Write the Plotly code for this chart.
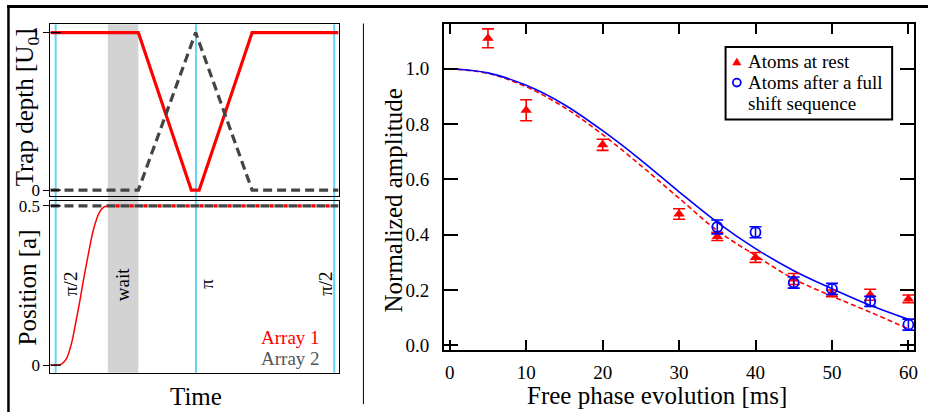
import plotly.graph_objects as go

W, H = 932, 418

# ---------------- Left panel data (time in arbitrary units, 0..100) ----------------
depth1_t = [0, 30.5, 48.9, 51.6, 70.0, 100]
depth1_v = [1, 1, 0, 0, 1, 1]
depth2_t = [0, 30.5, 50.4, 70.0, 100]
depth2_v = [0, 0, 1, 0, 0]

pos1_t = [0, 2.6, 4.0, 5.5, 7.3, 8.7, 10.1, 11.3, 12.4, 13.6, 14.7, 16.0, 17.0, 18.5, 19.9]
pos1_v = [0, 0, 0.004, 0.019, 0.068, 0.13, 0.197, 0.26, 0.313, 0.37, 0.418, 0.458, 0.48, 0.496, 0.5]
pos1_hold_t = [19.9, 100]
pos1_hold_v = [0.5, 0.5]
pos2_t = [0, 100]
pos2_v = [0.5, 0.5]

pulse_t = [1.8, 50.5, 98.5]
pulse_label_t = [6.7, 54.2, 95.5]
pulse_labels = ["π/2", "π", "π/2"]
wait_t = [19.9, 30.5]
wait_label_t = 24.8
depth_ticks = [0, 1]
pos_ticks = [0, 0.5]
pos_ticktext = ["0", "0.5"]

# ---------------- Right panel data ----------------
rest_x = [5, 10, 20, 30, 35, 40, 45, 50, 55, 60]
rest_y = [1.11, 0.85, 0.725, 0.475, 0.394, 0.318, 0.24, 0.188, 0.183, 0.168]
rest_err = [0.034, 0.038, 0.02, 0.019, 0.015, 0.018, 0.02, 0.012, 0.02, 0.014]

shift_x = [35, 40, 45, 50, 55, 60]
shift_y = [0.428, 0.409, 0.227, 0.204, 0.159, 0.075]
shift_err = [0.025, 0.02, 0.02, 0.02, 0.018, 0.02]

fit_x = [0, 5, 10, 15, 20, 25, 30, 35, 40, 45, 50, 55, 60]
fit_rest = [1.0, 0.983, 0.935, 0.86, 0.762, 0.65, 0.532, 0.415, 0.325, 0.24, 0.178, 0.12, 0.06]
fit_shift = [1.0, 0.985, 0.94, 0.87, 0.776, 0.67, 0.555, 0.445, 0.35, 0.27, 0.205, 0.145, 0.094]

x_ticks = [0, 10, 20, 30, 40, 50, 60]
y_ticks = [0.0, 0.2, 0.4, 0.6, 0.8, 1.0]

RED = "#ff0000"
BLUE = "#0000ff"
DGRAY = "#444444"
CYAN = "#66d4f2"
FONT = "Liberation Serif"


def px(x):
    return x / W


def py(y):
    return 1 - y / H


fig = go.Figure()

# Left top: trap depth
fig.add_trace(go.Scatter(x=depth1_t, y=depth1_v, mode="lines", line=dict(color=RED, width=3.2),
                         xaxis="x", yaxis="y", showlegend=False))
fig.add_trace(go.Scatter(x=depth2_t, y=depth2_v, mode="lines",
                         line=dict(color=DGRAY, width=3.2, dash="9px,5px"),
                         xaxis="x", yaxis="y", showlegend=False))

# Left bottom: position
fig.add_trace(go.Scatter(x=pos2_t, y=pos2_v, mode="lines",
                         line=dict(color=DGRAY, width=3.2, dash="9px,5px"),
                         xaxis="x2", yaxis="y2", showlegend=False))
fig.add_trace(go.Scatter(x=pos1_hold_t, y=pos1_hold_v, mode="lines",
                         line=dict(color=RED, width=3.2, dash="0px,7.9px,4px,2.1px"),
                         xaxis="x2", yaxis="y2", showlegend=False))
fig.add_trace(go.Scatter(x=pos1_t, y=pos1_v, mode="lines", line=dict(color=RED, width=1.5, shape="spline"),
                         xaxis="x2", yaxis="y2", showlegend=False))

# Right: fits
fig.add_trace(go.Scatter(x=fit_x, y=fit_rest, mode="lines",
                         line=dict(color=RED, width=1.6, dash="5px,3px", shape="spline"),
                         xaxis="x3", yaxis="y3", showlegend=False))
fig.add_trace(go.Scatter(x=fit_x, y=fit_shift, mode="lines",
                         line=dict(color=BLUE, width=1.6, shape="spline"),
                         xaxis="x3", yaxis="y3", showlegend=False))
# Right: data
fig.add_trace(go.Scatter(x=rest_x, y=rest_y, mode="markers", name="Atoms at rest",
                         marker=dict(symbol="triangle-up", size=10, color=RED),
                         error_y=dict(type="data", array=rest_err, color=RED, thickness=1.6, width=6),
                         xaxis="x3", yaxis="y3", showlegend=False))
fig.add_trace(go.Scatter(x=shift_x, y=shift_y, mode="markers", name="Atoms after a full shift sequence",
                         marker=dict(symbol="circle-open", size=10, color=BLUE, line=dict(width=1.8, color=BLUE)),
                         error_y=dict(type="data", array=shift_err, color=BLUE, thickness=1.6, width=6),
                         xaxis="x3", yaxis="y3", showlegend=False))

left_dom = [px(50.7), px(340)]
top_dom = [py(196.7), py(20.7)]
bot_dom = [py(377.7), py(202)]

common_left_x = dict(range=[0, 100], showticklabels=False, ticks="", showgrid=False, zeroline=False,
                     showline=True, linecolor="black", linewidth=1.2, mirror=True, domain=left_dom)
left_y_common = dict(showgrid=False, zeroline=False, showline=True, linecolor="black", linewidth=1.2,
                     mirror=True, ticks="outside", ticklen=6, tickwidth=1.2, tickcolor="black",
                     tickfont=dict(family=FONT, size=17, color="black"))

fig.update_layout(
    width=W, height=H, margin=dict(l=0, r=0, t=0, b=0),
    paper_bgcolor="white", plot_bgcolor="rgba(0,0,0,0)",
    xaxis=dict(common_left_x, anchor="y"),
    yaxis=dict(left_y_common, domain=top_dom, anchor="x", range=[-0.037, 1.053],
               tickvals=depth_ticks, ticktext=["0", "1"]),
    xaxis2=dict(common_left_x, anchor="y2"),
    yaxis2=dict(left_y_common, domain=bot_dom, anchor="x2", range=[-0.024, 0.515],
                tickvals=pos_ticks, ticktext=pos_ticktext),
    xaxis3=dict(domain=[px(446), px(918.3)], anchor="y3", range=[-0.74, 60.78],
                tickvals=x_ticks, ticks="inside", ticklen=10, tickwidth=1.6, tickcolor="black",
                showline=True, linecolor="black", linewidth=2, mirror="ticks",
                showgrid=False, zeroline=False, ticklabelstandoff=5,
                tickfont=dict(family=FONT, size=19, color="black")),
    yaxis3=dict(domain=[py(354), py(20.7)], anchor="x3", range=[-0.015, 1.161],
                tickvals=y_ticks, tickformat=".1f", ticks="inside", ticklen=14, tickwidth=1.6,
                tickcolor="black", showline=True, linecolor="black", linewidth=2, mirror="ticks",
                showgrid=False, zeroline=False, ticklabelstandoff=9,
                tickfont=dict(family=FONT, size=19, color="black")),
    showlegend=False,
)

shapes = []
# wait band & pulse lines spanning both left subplots
shapes.append(dict(type="rect", xref="x", yref="paper", x0=wait_t[0], x1=wait_t[1],
                   y0=bot_dom[0], y1=top_dom[1], fillcolor="#d3d3d3", line=dict(width=0), layer="below"))
for t in pulse_t:
    shapes.append(dict(type="line", xref="x", yref="paper", x0=t, x1=t, y0=bot_dom[0], y1=top_dom[1],
                       line=dict(color=CYAN, width=2), layer="below"))
# inside halves of the crossing ticks on the left panel
for v in depth_ticks:
    shapes.append(dict(type="line", xref="x domain", yref="y", x0=0, x1=0.036, y0=v, y1=v,
                       line=dict(color="black", width=1.2)))
for v in pos_ticks:
    shapes.append(dict(type="line", xref="x2 domain", yref="y2", x0=0, x1=0.036, y0=v, y1=v,
                       line=dict(color="black", width=1.2)))
# outer frame lines and divider
shapes.append(dict(type="line", xref="paper", yref="paper", x0=px(7), x1=1, y0=py(2.5), y1=py(2.5),
                   line=dict(color="black", width=3)))
shapes.append(dict(type="line", xref="paper", yref="paper", x0=px(8.5), x1=px(8.5), y0=py(1), y1=0,
                   line=dict(color="black", width=2.5)))
shapes.append(dict(type="line", xref="paper", yref="paper", x0=px(365), x1=px(365), y0=py(20), y1=py(410),
                   line=dict(color="black", width=1)))
# legend box
shapes.append(dict(type="rect", xref="paper", yref="paper", x0=px(728.7), x1=px(896), y0=py(118.3), y1=py(44),
                   line=dict(color="black", width=2), fillcolor="white"))
# legend markers
shapes.append(dict(type="path", xref="paper", yref="paper",
                   path=f"M {px(735.8)},{py(62.6)} L {px(744.2)},{py(62.6)} L {px(740)},{py(55.4)} Z",
                   fillcolor=RED, line=dict(color=RED, width=0.5)))
shapes.append(dict(type="circle", xref="paper", yref="paper", x0=px(736), x1=px(744), y0=py(84.5), y1=py(76.5),
                   line=dict(color=BLUE, width=1.8)))
fig.update_layout(shapes=shapes)

ann = []
def A(text, x, y, size, color="black", angle=0, xanchor="center", yanchor="middle", xref="paper", yref="paper"):
    ann.append(dict(text=text, x=x, y=y, xref=xref, yref=yref, showarrow=False, textangle=angle,
                    xanchor=xanchor, yanchor=yanchor, font=dict(family=FONT, size=size, color=color)))

A("Trap depth [U<sub>0</sub>]", px(27), py(106), 25, angle=-90)
A("Position [a]", px(27.5), py(290), 25, angle=-90)
A("Time", px(197), py(402), 25)
A("Normalized amplitude", px(395), py(201), 25, angle=-90)
A("Free phase evolution [ms]", px(660), py(401), 25)

for t, lab in zip(pulse_label_t, pulse_labels):
    A(lab, t, 0.254, 19, angle=-90, xref="x2", yref="y2")
A("wait", wait_label_t, 0.254, 19, angle=-90, xref="x2", yref="y2")
A("Array 1", 94.1, 0.087, 19, color=RED, xanchor="right", xref="x2", yref="y2")
A("Array 2", 94.1, 0.022, 19, color="#555555", xanchor="right", xref="x2", yref="y2")

A("Atoms at rest", px(749.5), py(58.5), 19, xanchor="left")
A("Atoms after a full", px(749.5), py(80.2), 19, xanchor="left")
A("shift sequence", px(749.5), py(101.8), 19, xanchor="left")

fig.update_layout(annotations=ann)

fig.write_html("out.html")
